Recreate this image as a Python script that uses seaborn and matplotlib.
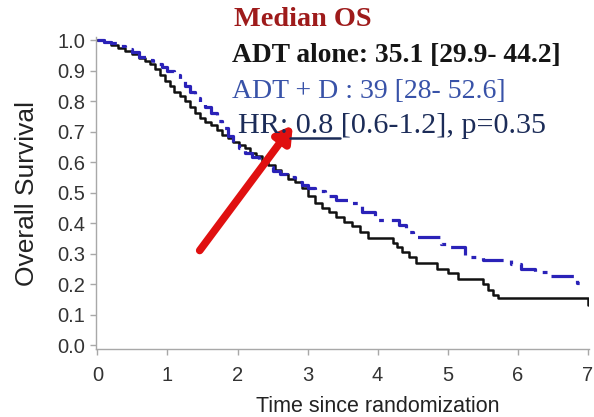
import numpy as np
import pandas as pd
import matplotlib
matplotlib.use("Agg")
import matplotlib.pyplot as plt
import seaborn as sns

# ---- data ----
adt_time = [0, 0.1, 0.2, 0.3, 0.4, 0.5, 0.6, 0.68, 0.75, 0.82, 0.9, 0.96, 1.03, 1.1,
            1.18, 1.25, 1.32, 1.39, 1.46, 1.54, 1.62, 1.7, 1.78, 1.86, 1.94, 2.02,
            2.1, 2.18, 2.26, 2.35, 2.44, 2.53, 2.62, 2.72, 2.82, 2.92, 3.0, 3.1, 3.2,
            3.3, 3.4, 3.52, 3.64, 3.75, 3.86, 4.22, 4.28, 4.35, 4.45, 4.55, 4.85, 5.0,
            5.15, 5.5, 5.58, 5.65, 5.72, 7.0]
adt_surv = [1.0, 0.995, 0.985, 0.975, 0.965, 0.955, 0.94, 0.93, 0.92, 0.905, 0.885,
            0.865, 0.85, 0.83, 0.815, 0.80, 0.78, 0.76, 0.745, 0.73, 0.72, 0.705,
            0.69, 0.68, 0.665, 0.655, 0.645, 0.63, 0.62, 0.605, 0.59, 0.575, 0.56,
            0.545, 0.535, 0.515, 0.49, 0.465, 0.45, 0.435, 0.42, 0.405, 0.39, 0.37,
            0.35, 0.335, 0.32, 0.305, 0.29, 0.27, 0.25, 0.235, 0.215, 0.20, 0.18,
            0.165, 0.155, 0.13]
adtd_time = [0, 0.1, 0.2, 0.3, 0.4, 0.5, 0.6, 0.7, 0.8, 0.92, 1.0, 1.1, 1.18, 1.25,
             1.32, 1.39, 1.46, 1.54, 1.62, 1.7, 1.78, 1.86, 1.94, 2.02, 2.1, 2.2,
             2.3, 2.4, 2.5, 2.6, 2.7, 2.82, 2.92, 3.0, 3.1, 3.25, 3.4, 3.64, 3.78,
             3.96, 4.3, 4.4, 4.5, 4.9, 5.0, 5.25, 5.5, 5.9, 6.05, 6.25, 6.45, 6.85,
             6.95]
adtd_surv = [1.0, 0.995, 0.99, 0.98, 0.97, 0.96, 0.945, 0.935, 0.92, 0.91, 0.9, 0.885,
             0.87, 0.85, 0.83, 0.81, 0.795, 0.78, 0.76, 0.735, 0.71, 0.685, 0.665,
             0.645, 0.63, 0.615, 0.60, 0.585, 0.57, 0.56, 0.55, 0.535, 0.525, 0.515,
             0.505, 0.49, 0.475, 0.465, 0.435, 0.41, 0.395, 0.37, 0.355, 0.33, 0.32,
             0.29, 0.28, 0.265, 0.25, 0.24, 0.225, 0.205, 0.20]
x_ticks = [0, 1, 2, 3, 4, 5, 6, 7]
y_ticks = [0.0, 0.1, 0.2, 0.3, 0.4, 0.5, 0.6, 0.7, 0.8, 0.9, 1.0]

df = pd.concat([
    pd.DataFrame({"time": adt_time, "surv": adt_surv, "arm": "ADT alone"}),
    pd.DataFrame({"time": adtd_time, "surv": adtd_surv, "arm": "ADT + D"}),
])

sns.set_style("white")
plt.rcParams["font.family"] = ["Liberation Sans", "DejaVu Sans"]

fig = plt.figure(figsize=(5.94, 4.17), dpi=100)
ax = fig.add_axes([96 / 594, (417 - 349) / 417, (589 - 96) / 594, (349 - 37) / 417])

sns.lineplot(data=df[df.arm == "ADT alone"], x="time", y="surv", ax=ax,
             drawstyle="steps-post", color="#111111", lw=1.8, estimator=None)
sns.lineplot(data=df[df.arm == "ADT + D"], x="time", y="surv", ax=ax,
             drawstyle="steps-post", color="#2a22b8", lw=2.3, estimator=None,
             linestyle=(0, (7, 2.5, 1.5, 2.5)))

ax.set_xlim(-0.021, 7.02)
ax.set_ylim(-0.013, 1.01)
ax.set_xticks(x_ticks)
ax.set_yticks(y_ticks)
ax.set_xticklabels([str(t) for t in x_ticks])
ax.set_yticklabels([f"{t:.1f}" for t in y_ticks])
for s in ["top", "right"]:
    ax.spines[s].set_visible(False)
for s in ["left", "bottom"]:
    ax.spines[s].set_color("#a8a8a8")
    ax.spines[s].set_linewidth(1.0)
ax.tick_params(axis="both", colors="#a8a8a8", labelcolor="#333333",
               labelsize=14.5, length=4, width=1, direction="out", bottom=True, left=True)
ax.tick_params(axis="x", pad=8)
ax.tick_params(axis="y", pad=4)
ax.set_xlabel("Time since randomization", fontsize=15.5, color="#222222")
ax.set_ylabel("Overall Survival", fontsize=19, color="#222222")
ax.xaxis.label.set_va("center")
ax.yaxis.label.set_va("center")
ax.xaxis.set_label_coords((378 - 96) / 493, (349 - 406) / 312)
ax.yaxis.set_label_coords((27 - 96) / 493, (349 - 193) / 312)

# annotation texts
serif = ["Liberation Serif", "DejaVu Serif"]
def ftext(px, py, s, color, size=20.5, weight="normal"):
    fig.text(px / 594, 1 - py / 417, s, color=color, fontsize=size, family=serif,
             fontweight=weight, va="center", ha="left")

ftext(234, 19, "Median OS", "#9e1b1b", size=20.3, weight="bold")
ftext(232, 56, "ADT alone: 35.1 [29.9- 44.2]", "#151515", size=19.8, weight="bold")
ftext(232, 92, "ADT + D : 39 [28- 52.6]", "#3852a8", size=20.0)
ftext(238, 126, "HR: 0.8 [0.6-1.2], p=0.35", "#1c2c58", size=21.7)
fig.add_artist(plt.Line2D([290 / 594, 340 / 594], [1 - 138 / 417, 1 - 138 / 417],
                          color="#1c2c58", lw=1.8))

ax.annotate("", xy=(2.79, 0.72), xytext=(1.46, 0.31),
            arrowprops=dict(arrowstyle="-|>,head_length=0.9,head_width=0.55",
                            color="#e01010", lw=5.5, shrinkA=0, shrinkB=0))

fig.savefig("out.png", dpi=100)
